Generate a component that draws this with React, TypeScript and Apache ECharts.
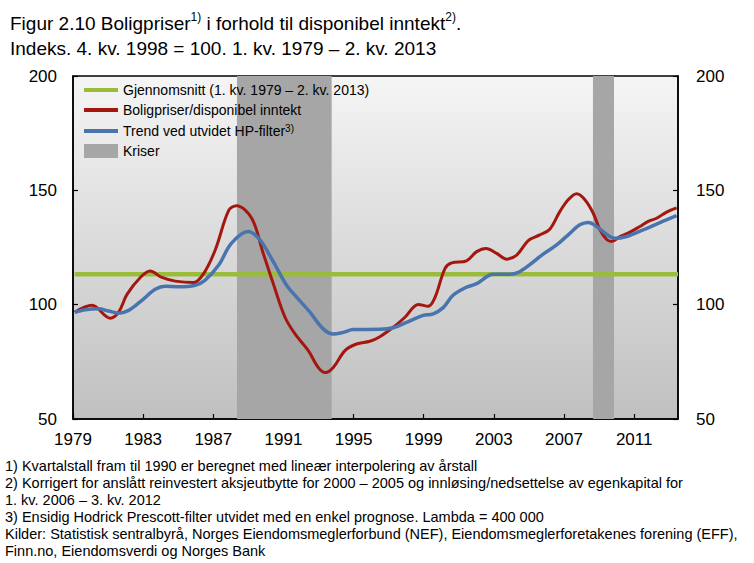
import React, { useEffect, useRef } from 'react';
import * as echarts from 'echarts';

// ---- Data ----
const averageValue = 113.3;
const averageYears = [1979.1, 2013.5];

const crisisStart = [1988.35, 2008.65];
const crisisEnd = [1993.75, 2009.85];

const priceYears = [
  1979.1, 1980.08, 1981.13, 1981.6, 1982.08, 1982.84, 1983.4, 1984.07, 1984.83, 1985.88,
  1986.45, 1987.11, 1987.88, 1988.33, 1989.19, 1989.85, 1990.42, 1991.09, 1991.66, 1992.42,
  1992.99, 1993.4, 1993.84, 1994.51, 1995.17, 1995.93, 1996.5, 1997.26, 1997.93, 1998.69,
  1999.26, 1999.64, 2000.21, 2000.59, 2001.44, 2002.02, 2002.55, 2003.16, 2003.73, 2004.3,
  2004.96, 2005.62, 2006.19, 2006.77, 2007.24, 2007.72, 2008.19, 2008.66, 2009.05, 2009.42,
  2009.71, 2010.19, 2010.76, 2011.33, 2011.8, 2012.28, 2012.85, 2013.42,
];
const priceValues = [
  96.7, 99.7, 94.1, 96.7, 104.5, 111.9, 114.7, 111.9, 110.3, 109.7,
  113.6, 123.9, 141.2, 143.3, 137.8, 122.4, 109.2, 94.5, 87.2, 79.9,
  72.5, 70.3, 72.5, 79.9, 82.8, 84.0, 86.0, 90.1, 94.5, 100.1,
  99.3, 103.1, 115.8, 118.3, 119.2, 123.2, 124.6, 122.4, 119.9, 121.7,
  128.0, 130.5, 133.0, 140.8, 145.9, 148.5, 145.9, 140.1, 132.7, 128.6,
  127.6, 129.8, 131.7, 134.2, 136.4, 137.8, 140.5, 142.3,
];

const trendYears = [
  1979.1, 1979.7, 1980.46, 1981.03, 1981.6, 1982.17, 1982.93, 1983.69, 1984.26, 1985.03,
  1985.97, 1986.54, 1987.31, 1988.03, 1988.99, 1989.66, 1990.42, 1991.18, 1991.75, 1992.51,
  1993.27, 1993.84, 1994.41, 1994.98, 1996.5, 1997.26, 1998.02, 1998.97, 1999.54, 2000.11,
  2000.67, 2001.34, 2002.02, 2002.96, 2003.91, 2004.39, 2005.05, 2005.81, 2006.58, 2007.33,
  2007.9, 2008.38, 2008.86, 2009.42, 2009.9, 2010.57, 2011.51, 2012.47, 2013.42,
];
const trendValues = [
  96.7, 97.8, 98.2, 97.2, 96.3, 97.5, 101.9, 106.7, 108.1, 107.8,
  108.5, 110.7, 117.3, 126.8, 132.0, 128.3, 118.8, 108.5, 103.3, 96.7,
  89.4, 87.2, 87.9, 89.1, 89.2, 89.9, 92.3, 95.3, 96.0, 98.7,
  104.1, 107.3, 109.2, 113.3, 113.3, 114.1, 117.5, 122.1, 126.1, 131.2,
  134.9, 135.9, 134.2, 130.8, 129.0, 129.8, 132.7, 135.9, 138.9,
];

const yMin = 50;
const yMax = 200;
const yStep = 50;
const xMin = 1979;
const xMax = 2013.5;
const xStep = 4;

const nameAverage = 'Gjennomsnitt (1. kv. 1979 – 2. kv. 2013)';
const namePrice = 'Boligpriser/disponibel inntekt';
const nameTrend = 'Trend ved utvidet HP-filter';
const nameCrisis = 'Kriser';

const footnotes = [
  '1) Kvartalstall fram til 1990 er beregnet med lineær interpolering av årstall',
  '2) Korrigert for anslått reinvestert aksjeutbytte for 2000 – 2005 og innløsing/nedsettelse av egenkapital for',
  '1. kv. 2006 – 3. kv. 2012',
  '3) Ensidig Hodrick Prescott-filter utvidet med en enkel prognose. Lambda = 400 000',
  'Kilder: Statistisk sentralbyrå, Norges Eiendomsmeglerforbund (NEF), Eiendomsmeglerforetakenes forening (EFF),',
  'Finn.no, Eiendomsverdi og Norges Bank',
];

const FONT = '"Liberation Sans", Arial, Helvetica, sans-serif';
const LINE_ICON = 'path://M0,0 L34,0 L34,4 L0,4 Z';

export default function App() {
  const ref = useRef<HTMLDivElement>(null);
  useEffect(() => {
    if (!ref.current) return;
    const chart = echarts.init(ref.current, null, { renderer: 'svg' });
    const yAxisCommon = {
      type: 'value',
      min: yMin,
      max: yMax,
      interval: yStep,
      axisLine: { show: true, lineStyle: { color: '#000', width: 1.5 } },
      axisTick: { show: true, inside: true, length: 5, lineStyle: { color: '#000', width: 1.2 } },
      splitLine: { show: false },
    };
    chart.setOption({
      animation: false,
      textStyle: { fontFamily: FONT },
      title: {
        left: 5,
        top: 6,
        text:
          '{a|Figur 2.10 Boligpriser}{s|1)}{a| i forhold til disponibel inntekt}{s|2)}{a|.}\n{a|Indeks. 4. kv. 1998 = 100. 1. kv. 1979 – 2. kv. 2013}',
        textStyle: {
          fontWeight: 'normal',
          rich: {
            a: { fontSize: 19, fontWeight: 'normal', fontFamily: FONT, color: '#000', lineHeight: 25 },
            s: { fontSize: 12, fontWeight: 'normal', fontFamily: FONT, color: '#000', lineHeight: 14, verticalAlign: 'top' },
          },
        },
      },
      grid: {
        left: 73,
        right: 76,
        top: 76,
        bottom: 144,
        show: true,
        borderColor: '#000',
        borderWidth: 1.5,
        backgroundColor: new echarts.graphic.LinearGradient(0, 0, 0, 1, [
          { offset: 0, color: '#f5f5f5' },
          { offset: 1, color: '#c0c0c0' },
        ]),
      },
      legend: {
        orient: 'vertical',
        left: 84,
        top: 83,
        padding: 0,
        itemWidth: 34,
        itemHeight: 14,
        itemGap: 6,
        selectedMode: false,
        textStyle: {
          fontSize: 14,
          color: '#000',
          fontFamily: FONT,
          rich: {
            n: { fontSize: 14, color: '#000', fontFamily: FONT, lineHeight: 16 },
            s: { fontSize: 10, color: '#000', fontFamily: FONT, lineHeight: 10, verticalAlign: 'top' },
          },
        },
        formatter: (name: string) =>
          name === nameTrend ? `{n|${name}}{s|3)}` : `{n|${name}}`,
        data: [
          { name: nameAverage, icon: LINE_ICON },
          { name: namePrice, icon: LINE_ICON },
          { name: nameTrend, icon: LINE_ICON },
          { name: nameCrisis, icon: 'rect' },
        ],
      },
      xAxis: {
        type: 'value',
        min: xMin,
        max: xMax,
        interval: xStep,
        axisLine: { show: true, lineStyle: { color: '#000', width: 1.5 } },
        axisTick: { show: true, inside: true, length: 5, lineStyle: { color: '#000', width: 1.2 } },
        splitLine: { show: false },
        axisLabel: {
          fontSize: 17,
          color: '#000',
          margin: 12,
          showMaxLabel: false,
          formatter: (v: number) =>
            Number.isInteger(v) && (v - xMin) % xStep === 0 ? String(v) : '',
        },
      },
      yAxis: [
        {
          ...yAxisCommon,
          position: 'left',
          axisLabel: { fontSize: 17, color: '#000', margin: 16 },
        },
        {
          ...yAxisCommon,
          position: 'right',
          axisLabel: { fontSize: 17, color: '#000', margin: 18 },
        },
      ],
      series: [
        {
          name: nameCrisis,
          type: 'custom',
          z: 1,
          itemStyle: { color: '#a6a6a6' },
          encode: { x: [0, 1] },
          data: crisisStart.map((s, i) => [s, crisisEnd[i]]),
          renderItem: (params: any, api: any) => {
            const p0 = api.coord([api.value(0), yMax]);
            const p1 = api.coord([api.value(1), yMin]);
            return {
              type: 'rect',
              shape: { x: p0[0], y: p0[1], width: p1[0] - p0[0], height: p1[1] - p0[1] },
              style: { fill: '#a6a6a6' },
            };
          },
        },
        {
          name: nameAverage,
          type: 'line',
          z: 3,
          symbol: 'none',
          color: '#9bbb3b',
          itemStyle: { color: '#9bbb3b' },
          lineStyle: { color: '#9bbb3b', width: 4.5 },
          data: averageYears.map((x) => [x, averageValue]),
        },
        {
          name: namePrice,
          type: 'line',
          z: 4,
          symbol: 'none',
          smooth: 0.35,
          color: '#a3170f',
          itemStyle: { color: '#a3170f' },
          lineStyle: { color: '#a3170f', width: 3 },
          data: priceYears.map((x, i) => [x, priceValues[i]]),
        },
        {
          name: nameTrend,
          type: 'line',
          z: 5,
          symbol: 'none',
          smooth: 0.35,
          color: '#4a74ad',
          itemStyle: { color: '#4a74ad' },
          lineStyle: { color: '#4a74ad', width: 3.5 },
          data: trendYears.map((x, i) => [x, trendValues[i]]),
        },
      ],
      graphic: [
        {
          type: 'text',
          left: 5,
          top: 457,
          style: {
            text: footnotes.join('\n'),
            font: `14.5px ${FONT}`,
            fill: '#000',
            lineHeight: 17,
          },
        },
      ],
    });
    return () => chart.dispose();
  }, []);
  return (
    <div
      ref={ref}
      style={{ position: 'fixed', left: 0, top: 0, width: 754, height: 563, background: '#fff' }}
    />
  );
}
